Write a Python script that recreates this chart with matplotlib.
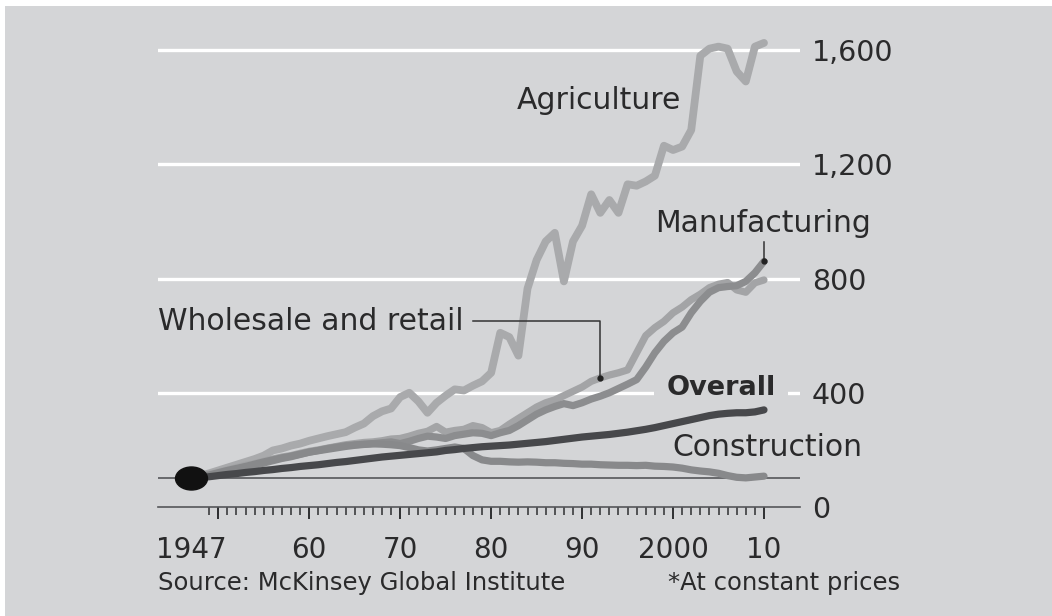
import matplotlib
matplotlib.use("Agg")
import matplotlib.pyplot as plt
import numpy as np
from matplotlib.path import Path
from matplotlib.transforms import Affine2D
from matplotlib.patches import Rectangle

# Labour productivity index by sector, 1947 = 100 (constant prices)
years = list(range(1947, 2011))

agriculture = [
    100, 110, 118, 128, 138, 148, 158, 168, 180, 198,
    205, 215, 222, 232, 240, 248, 255, 262, 278, 292,
    318, 335, 345, 385, 400, 370, 330, 365, 390, 412,
    408, 425, 440, 470, 610, 595, 530, 765, 865, 930,
    960, 790, 930, 985, 1095, 1030, 1075, 1030, 1130, 1125,
    1140, 1160, 1265, 1250, 1262, 1320, 1580, 1605, 1612, 1605,
    1525, 1490, 1612, 1625,
]

wholesale_retail = [
    100, 108, 115, 122, 130, 138, 146, 152, 160, 168,
    175, 180, 188, 195, 200, 206, 212, 218, 222, 226,
    228, 232, 238, 240, 248, 258, 265, 282, 262, 268,
    272, 285, 278, 260, 268, 290, 310, 330, 350, 365,
    375, 390, 405, 420, 440, 452, 462, 470, 480, 540,
    600, 628, 650, 680, 700, 726, 745, 768, 780, 786,
    760, 752, 785, 795,
]

manufacturing = [
    100, 106, 110, 118, 126, 132, 140, 146, 154, 162,
    170, 176, 184, 192, 198, 205, 210, 215, 218, 220,
    222, 225, 228, 222, 230, 240, 248, 245, 240, 250,
    255, 260, 258, 250, 260, 268, 285, 305, 325, 340,
    352, 362, 355, 365, 378, 388, 400, 415, 430, 446,
    490, 540, 580, 610, 630, 680, 720, 752, 768, 772,
    775, 790, 820, 860,
]

construction = [
    100, 108, 112, 120, 128, 135, 142, 150, 158, 165,
    172, 178, 185, 192, 197, 202, 207, 212, 216, 219,
    221, 220, 218, 215, 208, 200, 196, 200, 205, 210,
    205, 180, 165, 160, 160, 158, 157, 158, 157, 155,
    155, 153, 152, 150, 150, 148, 147, 146, 146, 145,
    146, 143, 142, 140, 136, 130, 126, 123, 118, 110,
    104, 102, 105, 108,
]

overall = [
    100, 103, 106, 110, 114, 117, 121, 124, 128, 131,
    135, 138, 142, 145, 148, 152, 156, 159, 163, 167,
    171, 175, 178, 181, 184, 187, 190, 193, 198, 201,
    205, 208, 211, 213, 215, 217, 220, 223, 226, 229,
    233, 237, 241, 245, 248, 251, 254, 258, 262, 267,
    272, 278, 285, 292, 299, 306, 313, 320, 325, 328,
    330, 330, 333, 340,
]

y_ticks = [0, 400, 800, 1200, 1600]
y_tick_labels = ["0", "400", "800", "1,200", "1,600"]
x_label_years = [1947, 1960, 1970, 1980, 1990, 2000, 2010]
x_tick_labels = ["1947", "60", "70", "80", "90", "2000", "10"]
decades = [1950, 1960, 1970, 1980, 1990, 2000, 2010]
base_year, base_value = 1947, 100

BG = "#d4d5d7"
TEXT = "#2a2a2b"
AXIS = "#55565a"
TICK = "#2e2f31"

plt.rcParams["font.family"] = ["DejaVu Sans"]

W, H = 1052, 616
fig = plt.figure(figsize=(W / 100, H / 100), dpi=100, facecolor="white")
fig.patches.append(Rectangle((5 / W, 0), 1, (H - 6) / H, transform=fig.transFigure,
                             facecolor=BG, edgecolor="none", zorder=-10))

left, right, top, bottom = 158, 800, 21.5, 507
ax = fig.add_axes([left / W, (H - bottom) / H, (right - left) / W, (bottom - top) / H])
ax.set_facecolor("none")
ax.set_xlim(1943.37, 2013.96)
ax.set_ylim(0, 1700)

for s in ("top", "left", "right"):
    ax.spines[s].set_visible(False)
ax.spines["bottom"].set_color(AXIS)
ax.spines["bottom"].set_linewidth(1.2)

# white gridlines
for v in y_ticks[1:]:
    ax.axhline(v, color="white", lw=2.4, zorder=1)
# index base line
ax.axhline(base_value, color=AXIS, lw=1.2, zorder=1)

# y axis on the right
ax.yaxis.tick_right()
ax.set_yticks(y_ticks)
ax.set_yticklabels(y_tick_labels)
ax.tick_params(axis="y", length=0, pad=8.5, labelsize=20.5, labelcolor=TEXT)

# x axis: labels, yearly minor ticks, longer decade ticks
ax.set_xticks(x_label_years)
ax.set_xticklabels(x_tick_labels)
ax.tick_params(axis="x", which="major", length=0, pad=21, labelsize=20, labelcolor=TEXT)
ax.set_xticks(years[2:], minor=True)
ax.tick_params(axis="x", which="minor", length=6, width=1.1, color=TICK)
sec = ax.secondary_xaxis("bottom")
sec.set_xticks(decades)
sec.tick_params(length=8.5, width=1.4, color=TICK, labelbottom=False)
sec.spines["bottom"].set_visible(False)

lw = 5.2
series = [
    (agriculture, "#a9aaac", 5.6),
    (wholesale_retail, "#a3a4a6", lw),
    (manufacturing, "#8c8d8f", lw),
    (construction, "#88898b", lw),
    (overall, "#47484b", lw),
]
for i, (vals, col, w) in enumerate(series):
    ax.plot(years, vals, color=col, lw=w, solid_joinstyle="round",
            solid_capstyle="round", zorder=4 + i)

# starting point marker (slightly wide ellipse)
ell = Path(Affine2D().scale(1.0, 0.72).transform(Path.unit_circle().vertices),
           Path.unit_circle().codes)
ax.plot([base_year], [base_value], marker=ell, markersize=23, color="#111111",
        zorder=12, clip_on=False)

fs = 21.5
ax.text(1982.8, 1425, "Agriculture", fontsize=fs, color=TEXT, va="center", ha="left", zorder=10)
ax.text(1998.0, 993, "Manufacturing", fontsize=fs, color=TEXT, va="center", ha="left", zorder=10)
ax.text(1943.37, 649, "Wholesale and retail", fontsize=fs, color=TEXT, va="center", ha="left", zorder=10)
ax.text(1999.3, 418, "Overall", fontsize=19.5, fontweight="bold", color=TEXT, va="center",
        ha="left", zorder=3, bbox=dict(boxstyle="square,pad=0.45", fc=BG, ec="none"))
ax.text(1999.9, 207, "Construction", fontsize=fs, color=TEXT, va="center", ha="left", zorder=10)

# leader lines
ax.plot([1978.0, 1992.0, 1992.0], [653, 653, wholesale_retail[1992 - 1947]],
        color="#333333", lw=1.1, zorder=11)
ax.plot([1992.0], [wholesale_retail[1992 - 1947]], "o", color="#222222", ms=3.5, zorder=11)
ax.plot([2010, 2010], [928, manufacturing[-1]], color="#333333", lw=1.1, zorder=11)
ax.plot([2010], [manufacturing[-1]], "o", color="#222222", ms=3.5, zorder=11)

fig.text(158 / W, 1 - 583 / H, "Source: McKinsey Global Institute", fontsize=17.5,
         color=TEXT, va="center", ha="left")
fig.text(900 / W, 1 - 583 / H, "*At constant prices", fontsize=17.5,
         color=TEXT, va="center", ha="right")

fig.savefig("out.png", dpi=100, facecolor="white")
